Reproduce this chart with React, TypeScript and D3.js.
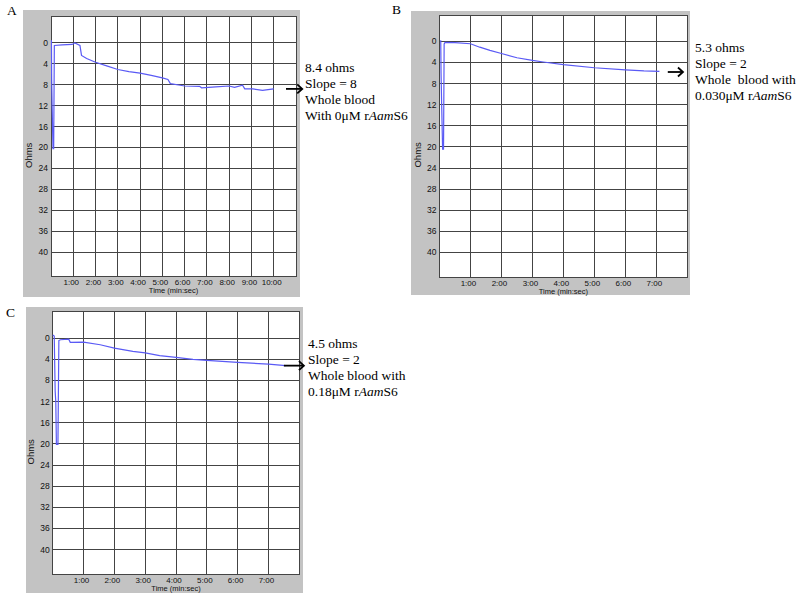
import React from 'react';
import * as d3 from 'd3';

// traces: time in minutes, impedance in ohms
const timeA = [0.02, 0.03, 0.05, 0.09, 0.12, 0.15, 0.5, 0.95, 1.07, 1.3, 1.37, 1.6, 2.0, 2.5, 3.0, 3.5, 4.0, 4.5, 5.0, 5.25, 5.36, 5.8, 6.0, 6.67, 6.76, 7.4, 8.0, 8.24, 8.6, 8.7, 9.06, 9.5, 9.66, 10.0];
const ohmsA = [-0.5, 7, 12, 20.2, 20.2, 0.5, 0.4, 0.3, 0.0, 0.5, 2.4, 3.0, 3.7, 4.4, 5.1, 5.5, 5.8, 6.2, 6.7, 7.0, 7.8, 8.1, 8.25, 8.3, 8.6, 8.4, 8.25, 8.5, 8.1, 8.8, 8.8, 9.1, 9.0, 8.8];

const timeB = [0.04, 0.05, 0.07, 0.1, 0.13, 0.15, 0.18, 0.5, 1.0, 1.3, 1.63, 2.0, 2.5, 3.0, 3.35, 4.0, 5.0, 6.0, 6.6, 7.1];
const ohmsB = [-0.2, 6, 12, 20.4, 20.4, 0.5, 0.2, 0.25, 0.45, 1.1, 1.7, 2.3, 3.1, 3.6, 3.9, 4.4, 5.0, 5.4, 5.6, 5.7];

const timeC = [0.0, 0.05, 0.08, 0.1, 0.12, 0.17, 0.2, 0.25, 0.52, 0.57, 1.0, 1.54, 2.0, 2.6, 3.0, 3.47, 4.0, 4.55, 5.0, 6.0, 7.0, 7.56];
const ohmsC = [-0.6, -0.4, 10, 12, 20.1, 20.1, 0.45, 0.3, 0.2, 0.8, 0.75, 1.25, 1.9, 2.5, 2.8, 3.3, 3.65, 4.0, 4.2, 4.6, 4.9, 5.2];

const yTicks = [0, 4, 8, 12, 16, 20, 24, 28, 32, 36, 40];
const xTicksA = [1, 2, 3, 4, 5, 6, 7, 8, 9, 10];
const xTicks7 = [1, 2, 3, 4, 5, 6, 7];

const notesA = ["8.4 ohms", "Slope = 8", "Whole blood", "With 0μM rAamS6"];
const notesB = ["5.3 ohms", "Slope = 2", "Whole  blood with", "0.030μM rAamS6"];
const notesC = ["4.5 ohms", "Slope = 2", "Whole blood with", "0.18μM rAamS6"];

// arrow level (ohms) next to each trace
const arrowOhms = [8.8, 5.8, 5.2];

const panels = [
    {
        letter: "A", lx: 7, ly: 15,
        frame: { x: 23, y: 10, w: 277, h: 287 },
        plot: { x: 51, y: 16.7, w: 245, h: 260 },
        xMax: 11, xTicks: xTicksA, time: timeA, ohms: ohmsA,
        notes: notesA, noteY: 72, arrow: [10.55, 11.28], arrowOhm: arrowOhms[0]
    },
    {
        letter: "B", lx: 392, ly: 14,
        frame: { x: 411, y: 11, w: 279, h: 284 },
        plot: { x: 439.5, y: 15, w: 247.8, h: 262.3 },
        xMax: 8, xTicks: xTicks7, time: timeB, ohms: ohmsB,
        notes: notesB, noteY: 52, arrow: [7.37, 7.86], arrowOhm: arrowOhms[1]
    },
    {
        letter: "C", lx: 6, ly: 317,
        frame: { x: 26, y: 307, w: 277, h: 286 },
        plot: { x: 52.7, y: 311.7, w: 246.6, h: 262.8 },
        xMax: 8, xTicks: xTicks7, time: timeC, ohms: ohmsC,
        notes: notesC, noteY: 348, arrow: [7.5, 8.15], arrowOhm: arrowOhms[2]
    },
];

const sans = "'Liberation Sans', Arial, sans-serif";
const serif = "'Liberation Serif', 'Times New Roman', serif";

export default class App extends React.Component {
    componentDidMount() {
        this.drawChart();
    }

    drawChart() {
        let svg = d3.select('#clotChart');
        svg.selectAll("*").remove();

        panels.forEach(p => {
            let g = svg.append("g");

            // gray outer frame
            g.append("rect")
                .attr("x", p.frame.x).attr("y", p.frame.y)
                .attr("width", p.frame.w).attr("height", p.frame.h)
                .attr("fill", "#c3c3c3");

            g.append("rect")
                .attr("x", p.plot.x).attr("y", p.plot.y)
                .attr("width", p.plot.w).attr("height", p.plot.h)
                .attr("fill", "white");

            let x = d3.scaleLinear().domain([0, p.xMax]).range([p.plot.x, p.plot.x + p.plot.w]);
            let y = d3.scaleLinear().domain([-5, 44.7]).range([p.plot.y, p.plot.y + p.plot.h]);

            // grid
            g.selectAll(".vgrid").data(p.xTicks).enter().append("line")
                .attr("x1", d => x(d)).attr("x2", d => x(d))
                .attr("y1", p.plot.y).attr("y2", p.plot.y + p.plot.h)
                .attr("stroke", "#444").attr("stroke-width", 1)
                .attr("shape-rendering", "crispEdges");
            g.selectAll(".hgrid").data(yTicks).enter().append("line")
                .attr("x1", p.plot.x).attr("x2", p.plot.x + p.plot.w)
                .attr("y1", d => y(d)).attr("y2", d => y(d))
                .attr("stroke", "#444").attr("stroke-width", 1)
                .attr("shape-rendering", "crispEdges");

            g.append("rect")
                .attr("x", p.plot.x).attr("y", p.plot.y)
                .attr("width", p.plot.w).attr("height", p.plot.h)
                .attr("fill", "none").attr("stroke", "#444").attr("stroke-width", 1)
                .attr("shape-rendering", "crispEdges");

            // tick labels
            g.selectAll(".ylab").data(yTicks).enter().append("text")
                .attr("x", p.plot.x - 3).attr("y", d => y(d))
                .attr("dy", "0.35em")
                .attr("text-anchor", "end")
                .attr("font-family", sans).attr("font-size", 8.5)
                .attr("fill", "#111")
                .text(d => d);
            g.selectAll(".xlab").data(p.xTicks).enter().append("text")
                .attr("x", d => x(d) - 2).attr("y", p.plot.y + p.plot.h + 8.5)
                .attr("text-anchor", "middle")
                .attr("font-family", sans).attr("font-size", 8)
                .attr("fill", "#111")
                .text(d => d + ":00");

            g.append("text")
                .attr("x", p.plot.x + p.plot.w / 2).attr("y", p.plot.y + p.plot.h + 16.5)
                .attr("text-anchor", "middle")
                .attr("font-family", sans).attr("font-size", 7.5)
                .attr("fill", "#111")
                .text("Time (min:sec)");

            g.append("text")
                .attr("transform", `translate(${p.plot.x - 19},${y(21.5)}) rotate(-90)`)
                .attr("text-anchor", "middle")
                .attr("font-family", sans).attr("font-size", 9.5)
                .attr("fill", "#111")
                .text("Ohms");

            // trace
            let line = d3.line<number>()
                .x((d, i) => x(p.time[i]))
                .y(d => y(d));
            g.append("path")
                .datum(p.ohms)
                .attr("d", line)
                .attr("fill", "none")
                .attr("stroke", "#5a5af5")
                .attr("stroke-width", 1.2);

            // panel letter
            g.append("text")
                .attr("x", p.lx).attr("y", p.ly)
                .attr("font-family", serif).attr("font-size", 13.5)
                .text(p.letter);

            // arrow
            let ay = y(p.arrowOhm);
            let ax1 = x(p.arrow[0]);
            let ax2 = x(p.arrow[1]);
            g.append("line")
                .attr("x1", ax1).attr("x2", ax2 - 1)
                .attr("y1", ay).attr("y2", ay)
                .attr("stroke", "black").attr("stroke-width", 1.8);
            g.append("path")
                .attr("d", `M${ax2 - 5},${ay - 4.5}L${ax2},${ay}L${ax2 - 5},${ay + 4.5}`)
                .attr("fill", "none").attr("stroke", "black").attr("stroke-width", 1.8);

            // annotation text
            let tx = p.frame.x + p.frame.w + 5;
            p.notes.forEach((note, i) => {
                let t = g.append("text")
                    .attr("x", tx).attr("y", p.noteY + i * 16)
                    .attr("font-family", serif).attr("font-size", 13.5)
                    .style("white-space", "pre");
                if (note.includes("Aam")) {
                    let parts = note.split("Aam");
                    t.append("tspan").text(parts[0]);
                    t.append("tspan").attr("font-style", "italic").text("Aam");
                    t.append("tspan").text(parts[1]);
                } else {
                    t.text(note);
                }
            });
        });
    }

    render() {
        return (
            <svg id="clotChart" width={800} height={599}
                style={{ position: 'absolute', left: 0, top: 0, background: 'white' }} />
        );
    }
}
